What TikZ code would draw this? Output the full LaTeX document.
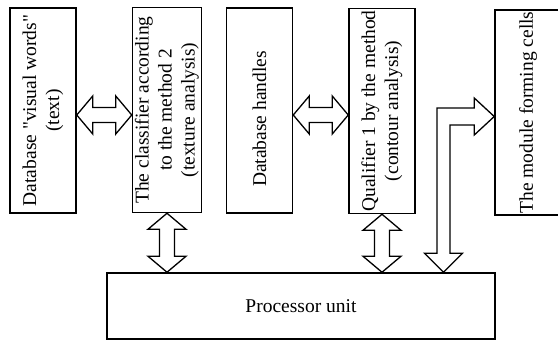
\documentclass[tikz,border=0pt]{standalone}
\usepackage{fontspec}
\setmainfont{Liberation Serif}
\usepackage{graphicx}
\usetikzlibrary{calc}
\tikzstyle{block} = [rectangle, draw, line width=1.5pt, minimum width=66pt, minimum height=205pt, inner sep=0pt, font=\fontsize{19.5}{23}\selectfont]
\tikzstyle{unit} = [rectangle, draw, line width=1.5pt, minimum width=388pt, minimum height=66pt, font=\fontsize{19.5}{23}\selectfont]
\tikzstyle{hollow} = [line width=1.3pt, line join=miter, fill=white]
% hollow two-way arrows, left to right and top to bottom
\newcommand{\hollowh}[2]{\draw [hollow] (#1) -- ++(16,-19) -- ++(0,11.5) -- ($(#2)+(-16,-7.5)$) -- ++(0,-11.5) -- (#2) -- ++(-16,19) -- ++(0,-11.5) -- ($(#1)+(16,7.5)$) -- ++(0,11.5) -- cycle;}
\newcommand{\hollowv}[2]{\draw [hollow] (#1) -- ++(19,16) -- ++(-11.5,0) -- ($(#2)+(7.5,-16)$) -- ++(11.5,0) -- (#2) -- ++(-19,-16) -- ++(11.5,0) -- ($(#1)+(-7.5,16)$) -- ++(-11.5,0) -- cycle;}

\begin{document}
\begin{tikzpicture}[x=1pt, y=-1pt]
    \useasboundingbox (0,0) rectangle (558,341);
    \node [block] at (43,110.5) (vw) {\rotatebox{90}{\begin{tabular}{@{}c@{}}Database \textquotedbl visual words\textquotedbl\\(text)\end{tabular}}};
    \node [block] at (167,110) (cls) {\rotatebox{90}{\begin{tabular}{@{}c@{}}The classifier according\\to the method 2\\(texture analysis)\end{tabular}}};
    \node [block] at (259.5,110.5) (hdl) {\rotatebox{90}{Database handles\hspace{17pt}}};
    \node [block] at (382,111) (qual) {\rotatebox{90}{\begin{tabular}{@{}c@{}}Qualifier 1 by the method\\(contour analysis)\end{tabular}}};
    \node [block] at (528,112.5) (mod) {\rotatebox{90}{The module forming cells}};
    \node [unit] at (301,306) (cpu) {Processor unit};
    \coordinate (midrow) at (0,115);
    \coordinate (bend) at (443.5,116.5);
    \hollowh{vw.east |- midrow}{cls.west |- midrow}
    \hollowh{hdl.east |- midrow}{qual.west |- midrow}
    \hollowv{cls.south}{cls.south |- cpu.north}
    \hollowv{qual.south}{qual.south |- cpu.north}
    \draw [hollow] (cpu.north -| bend) -- ++(19,-19) -- ++(-12.5,0) -- ($(bend)+(6.5,8.5)$) -- ($(mod.west |- bend)+(-20,8.5)$) -- ++(0,10) -- (mod.west |- bend) -- ++(-20,-18.5) -- ++(0,10) -- ($(bend)+(-6.5,-8.5)$) -- ($(cpu.north -| bend)+(-6.5,-19)$) -- ++(-12.5,0) -- cycle;
\end{tikzpicture}
\end{document}
